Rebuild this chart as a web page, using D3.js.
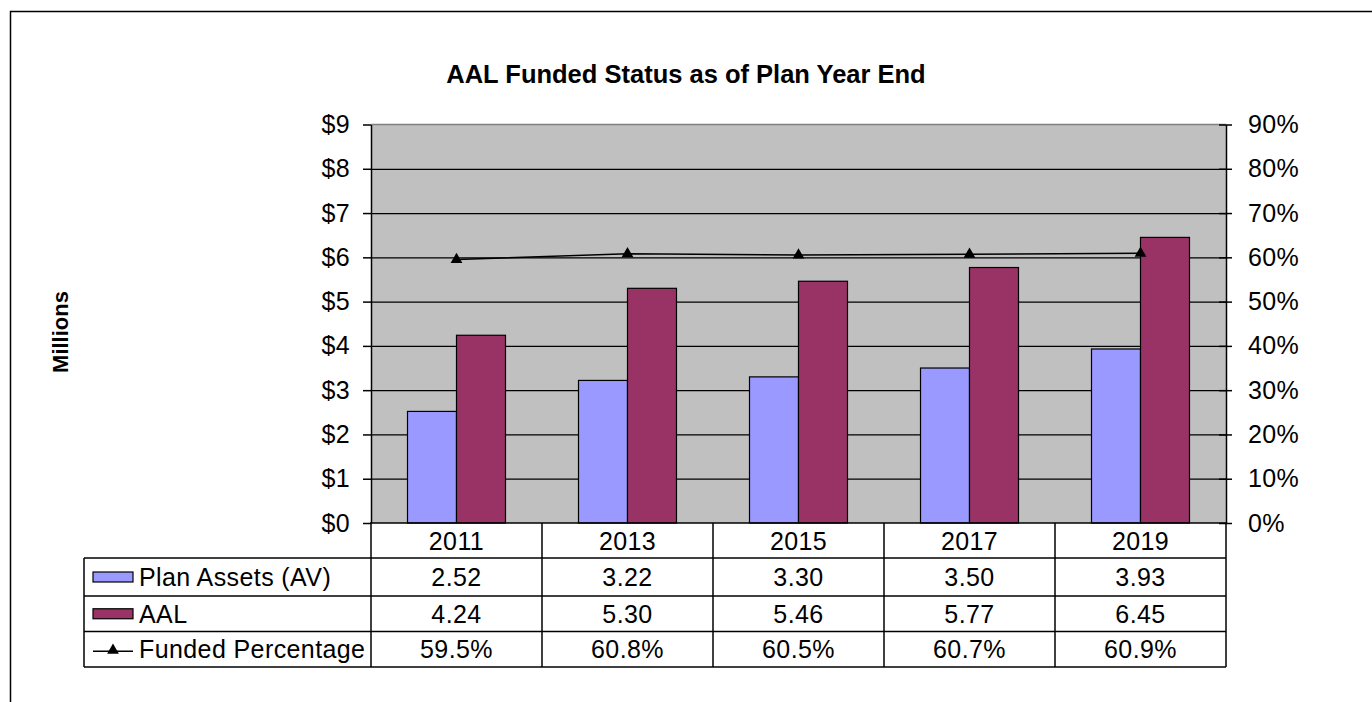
<!DOCTYPE html>
<html lang="en">
<head>
  <meta charset="UTF-8">
  <title>AAL Funded Status as of Plan Year End</title>
  <style>
    body { margin: 0; background: #fff; }
    svg text { font-family: 'Liberation Sans', Arial, Helvetica, sans-serif; fill: #000; }
    .lbl { font-size: 25px; letter-spacing: 0.4px; }
  </style>
</head>
<body>
  <div id="my_dataviz"></div>
<script src="https://d3js.org/d3.v7.min.js"></script>
<script>
    // chart data
    var years = ["2011", "2013", "2015", "2017", "2019"];
    var planAssets = [2.52, 3.22, 3.30, 3.50, 3.93];
    var aal = [4.24, 5.30, 5.46, 5.77, 6.45];
    var fundedPct = [59.5, 60.8, 60.5, 60.7, 60.9];
    var leftTicks = [0, 1, 2, 3, 4, 5, 6, 7, 8, 9];
    var rightTicks = [0, 10, 20, 30, 40, 50, 60, 70, 80, 90];
    var seriesNames = ["Plan Assets (AV)", "AAL", "Funded Percentage"];

    var W = 1372, H = 702;
    var plot = {left: 371, right: 1226, top: 124.5, bottom: 523};

    var svg = d3.select("#my_dataviz")
      .append("svg")
      .attr("width", W)
      .attr("height", H);

    // outer frame (runs off the right/bottom of the picture)
    svg.append("rect")
      .attr("x", 10.5).attr("y", 11.5)
      .attr("width", W + 20).attr("height", H + 20)
      .attr("fill", "none").attr("stroke", "#000").attr("stroke-width", 1.5);

    var x = d3.scaleBand().domain(years).range([plot.left, plot.right]);
    var x1 = d3.scaleBand().domain(["assets", "aal"])
      .range([0, x.bandwidth()]).paddingInner(0).paddingOuter(0.745);
    var y = d3.scaleLinear().domain([0, 9]).range([plot.bottom, plot.top]);
    var yPct = d3.scaleLinear().domain([0, 90]).range([plot.bottom, plot.top]);

    // plot background
    svg.append("rect")
      .attr("x", plot.left).attr("y", plot.top)
      .attr("width", plot.right - plot.left).attr("height", plot.bottom - plot.top)
      .attr("fill", "#c0c0c0");

    // gridlines
    svg.append("g")
      .attr("transform", `translate(${plot.left},0)`)
      .call(d3.axisLeft(y).tickValues(leftTicks.slice(1, 9)).tickSize(-(plot.right - plot.left)).tickFormat(""))
      .call(g => g.select(".domain").remove())
      .call(g => g.selectAll("line").attr("stroke", "#000").attr("stroke-width", 1.2));
    svg.append("line")
      .attr("x1", plot.left).attr("x2", plot.right)
      .attr("y1", plot.top).attr("y2", plot.top)
      .attr("stroke", "#808080").attr("stroke-width", 1.5);

    // bars
    var bars = svg.append("g");
    years.forEach(function(yr, i) {
      bars.append("rect")
        .attr("x", x(yr) + x1("assets"))
        .attr("y", y(planAssets[i]))
        .attr("width", x1.bandwidth())
        .attr("height", y(0) - y(planAssets[i]))
        .attr("fill", "#9999ff").attr("stroke", "#000").attr("stroke-width", 1.2);
      bars.append("rect")
        .attr("x", x(yr) + x1("aal"))
        .attr("y", y(aal[i]))
        .attr("width", x1.bandwidth())
        .attr("height", y(0) - y(aal[i]))
        .attr("fill", "#993366").attr("stroke", "#000").attr("stroke-width", 1.2);
    });

    // funded percentage line
    var line = d3.line()
      .x((d, i) => x(years[i]) + x.bandwidth() / 2)
      .y(d => yPct(d));
    svg.append("path")
      .datum(fundedPct)
      .attr("d", line)
      .attr("fill", "none").attr("stroke", "#000").attr("stroke-width", 1.5);
    var tri = d3.symbol().type(d3.symbolTriangle).size(60);
    svg.append("g").selectAll("path")
      .data(fundedPct)
      .join("path")
      .attr("d", tri)
      .attr("transform", (d, i) => `translate(${x(years[i]) + x.bandwidth() / 2},${yPct(d)})`)
      .attr("fill", "#000");

    // left axis
    svg.append("g")
      .attr("transform", `translate(${plot.left},0)`)
      .call(d3.axisLeft(y).tickValues(leftTicks).tickFormat(d => "$" + d)
        .tickSizeInner(8).tickSizeOuter(0).tickPadding(13))
      .call(g => g.select(".domain").attr("stroke-width", 1.5))
      .call(g => g.selectAll("line").attr("stroke-width", 1.5))
      .call(g => g.selectAll("text").attr("class", "lbl").attr("font-size", null).attr("font-family", null));

    // right axis
    svg.append("g")
      .attr("transform", `translate(${plot.right},0)`)
      .call(d3.axisRight(yPct).tickValues(rightTicks).tickFormat(d => d + "%")
        .tickSizeInner(6).tickSizeOuter(0).tickPadding(16))
      .call(g => g.select(".domain").attr("stroke-width", 1.5))
      .call(g => g.selectAll(".tick line").attr("x1", -7).attr("stroke-width", 1.5))
      .call(g => g.selectAll("text").attr("class", "lbl").attr("font-size", null).attr("font-family", null));

    // data table
    var tableLeft = 84;
    var rowLines = [558, 596, 631.5, 667];
    var table = svg.append("g");
    var tl = table.append("g").attr("stroke", "#000").attr("stroke-width", 1.5);
    tl.append("line").attr("x1", plot.left - 1).attr("x2", plot.right).attr("y1", plot.bottom).attr("y2", plot.bottom);
    rowLines.forEach(function(ry) {
      tl.append("line").attr("x1", tableLeft).attr("x2", plot.right).attr("y1", ry).attr("y2", ry);
    });
    tl.append("line").attr("x1", tableLeft).attr("x2", tableLeft).attr("y1", rowLines[0]).attr("y2", rowLines[3]);
    years.forEach(function(yr) {
      tl.append("line").attr("x1", x(yr)).attr("x2", x(yr)).attr("y1", plot.bottom).attr("y2", rowLines[3]);
    });
    tl.append("line").attr("x1", plot.right).attr("x2", plot.right).attr("y1", plot.bottom).attr("y2", rowLines[3]);

    var rowMid = [(plot.bottom + rowLines[0]) / 2];
    for (var r = 0; r < 3; r++) rowMid.push((rowLines[r] + rowLines[r + 1]) / 2);

    var rows = [
      years,
      planAssets.map(d => d.toFixed(2)),
      aal.map(d => d.toFixed(2)),
      fundedPct.map(d => d.toFixed(1) + "%")
    ];
    rows.forEach(function(vals, r) {
      table.append("g").selectAll("text")
        .data(vals)
        .join("text")
        .attr("class", "lbl")
        .attr("x", (d, i) => x(years[i]) + x.bandwidth() / 2)
        .attr("y", rowMid[r])
        .attr("dy", "0.36em")
        .attr("text-anchor", "middle")
        .text(d => d);
    });

    // legend keys in the table
    var keyX = 93, keyW = 40;
    [["#9999ff", 1], ["#993366", 2]].forEach(function(k) {
      table.append("rect")
        .attr("x", keyX).attr("y", rowMid[k[1]] - 5)
        .attr("width", keyW).attr("height", 10)
        .attr("fill", k[0]).attr("stroke", "#000").attr("stroke-width", 1.2);
    });
    table.append("line")
      .attr("x1", keyX).attr("x2", keyX + keyW)
      .attr("y1", rowMid[3] + 2).attr("y2", rowMid[3] + 2)
      .attr("stroke", "#000").attr("stroke-width", 1.5);
    table.append("path")
      .attr("d", tri)
      .attr("transform", `translate(${keyX + keyW / 2},${rowMid[3] + 1})`)
      .attr("fill", "#000");
    seriesNames.forEach(function(name, i) {
      table.append("text")
        .attr("class", "lbl")
        .attr("x", 139).attr("y", rowMid[i + 1])
        .attr("dy", "0.36em")
        .text(name);
    });

    // title and axis label
    svg.append("text")
      .attr("x", 686).attr("y", 83)
      .attr("text-anchor", "middle")
      .attr("font-size", 25.5).attr("font-weight", "bold")
      .text("AAL Funded Status as of Plan Year End");
    svg.append("text")
      .attr("transform", "translate(68,332) rotate(-90)")
      .attr("text-anchor", "middle")
      .attr("font-size", 22).attr("font-weight", "bold")
      .text("Millions");
</script>
</body>
</html>
